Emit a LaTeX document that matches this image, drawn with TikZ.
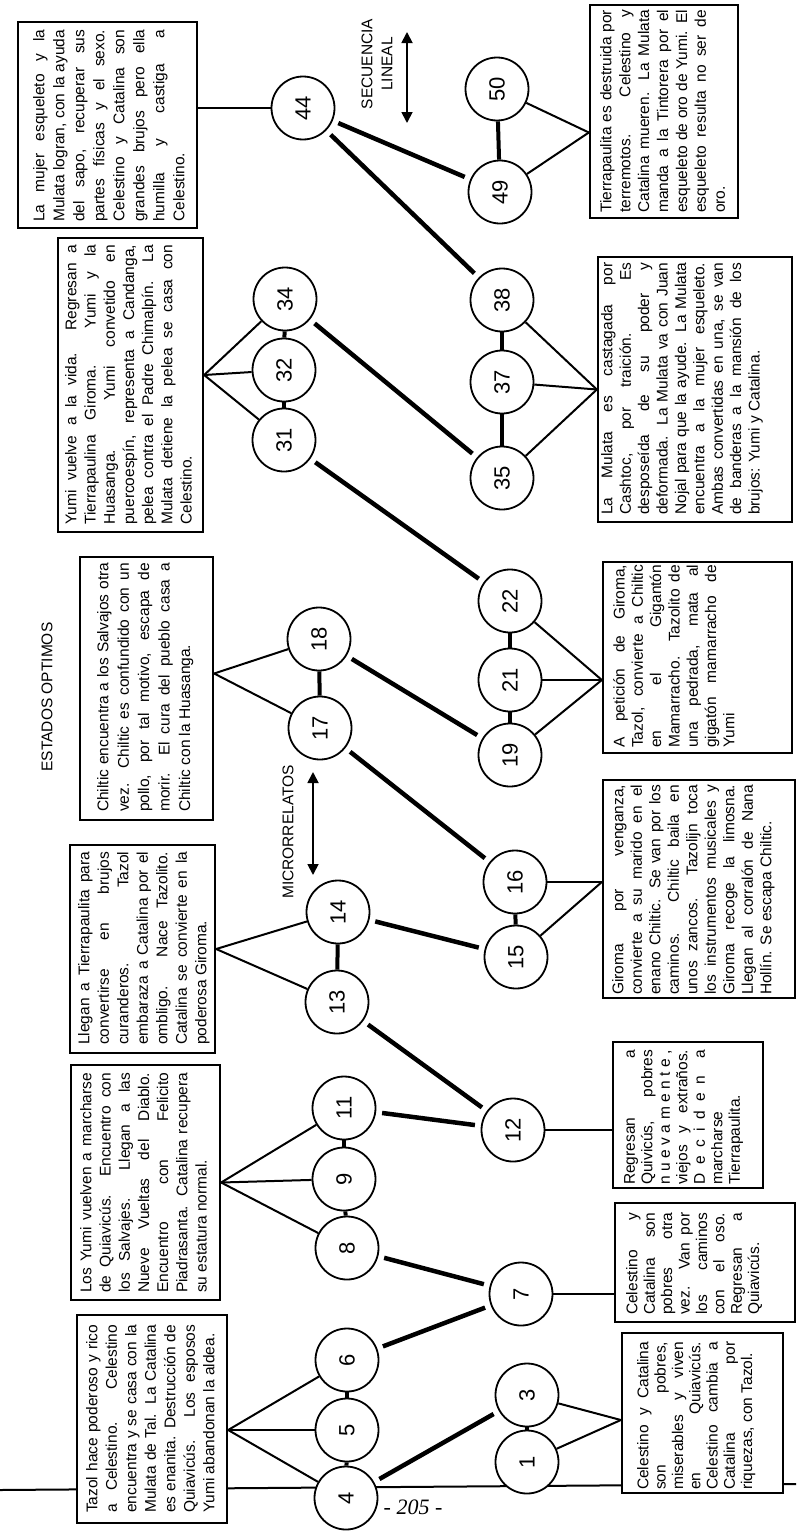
\documentclass[tikz,border=0pt]{standalone}
\usepackage{fontspec}
\setmainfont{Liberation Sans}
\newfontfamily\pagenumfont{Liberation Serif}
\usetikzlibrary{calc,arrows.meta}
\begin{document}
\begin{tikzpicture}[x=1pt,y=-1pt,
  box/.style={draw, line width=2.3pt, fill=white, inner sep=0pt},
  circ/.style={circle, draw, line width=1.8pt, fill=white, minimum size=63pt, inner sep=0pt, font=\fontsize{22}{22}\selectfont, rotate=90},
  txt/.style={rotate=90, anchor=north west, inner sep=0pt, align=justify, font=\fontsize{15.5}{#1}\selectfont},
  fan/.style={line width=2pt},
  seq/.style={line width=4.5pt, shorten >=6pt, shorten <=6pt},
  link/.style={line width=4pt},
  lbl/.style={rotate=90, font=\fontsize{15.5}{20}\selectfont, align=center, inner sep=0pt},
  dbl/.style={line width=1.8pt, {Triangle[length=11pt,width=11pt]}-{Triangle[length=11pt,width=11pt]}},
  base/.style={line width=2pt}
]
\useasboundingbox (0,0) rectangle (796,1531);

% base line
\coordinate (bl) at (0,1490);
\coordinate (br) at (796,1484);
\draw[base] (bl) -- (br);

% boxes
\node[box, minimum width=150pt, minimum height=208pt] (A) at (152,1419) {};
\node[box, minimum width=149pt, minimum height=235pt] (B) at (145.5,1182.5) {};
\node[box, minimum width=145pt, minimum height=208pt] (E) at (142.5,949) {};
\node[box, minimum width=133pt, minimum height=263pt] (H) at (146.5,688.5) {};
\node[box, minimum width=145pt, minimum height=294pt] (J) at (130.5,385) {};
\node[box, minimum width=179pt, minimum height=206pt] (L) at (107.5,125) {};
\node[box, minimum width=148pt, minimum height=213pt] (M) at (664,111.5) {};
\node[box, minimum width=194pt, minimum height=265pt] (K) at (695,389.5) {};
\node[box, minimum width=189pt, minimum height=191pt] (I) at (697.5,657.5) {};
\node[box, minimum width=192pt, minimum height=218pt] (G) at (699,889) {};
\node[box, minimum width=150pt, minimum height=146pt] (F) at (688,1115) {};
\node[box, minimum width=180pt, minimum height=119pt] (C) at (705,1262.5) {};
\node[box, minimum width=161pt, minimum height=160pt] (D) at (702.5,1413) {};

% box texts
\node[txt=19.5, text width=188pt] (tA) at (86,1513) {Tazol hace poderoso y rico\linebreak a Celestino. Celestino\linebreak encuentra y se casa con la\linebreak Mulata de Tal. La Catalina\linebreak es enanita. Destrucción de\linebreak Quiavicús. Los esposos\linebreak Yumi abandonan la aldea.};
\node[txt=19.2, text width=220pt] (tB) at (80,1293) {Los Yumi vuelven a marcharse\linebreak de Quiavicús. Encuentro con\linebreak los Salvajes. Llegan a las\linebreak Nueve Vueltas del Diablo.\linebreak Encuentro con Felicito\linebreak Piadrasanta. Catalina recupera\linebreak su estatura normal.};
\node[txt=19.5, text width=193pt] (tE) at (78,1045) {Llegan a Tierrapaulita para\linebreak convertirse en brujos\linebreak curanderos. Tazol\linebreak embaraza a Catalina por el\linebreak ombligo. Nace Tazolito.\linebreak Catalina se convierte en la\linebreak poderosa Giroma.};
\node[txt=20.4, text width=249pt] (tH) at (97,812) {Chiltic encuentra a los Salvajos otra\linebreak vez. Chiltic es confundido con un\linebreak pollo, por tal motivo, escapa de\linebreak morir. El cura del pueblo casa a\linebreak Chiltic con la Huasanga.};
\node[txt=19.2, text width=280pt] (tJ) at (65,525) {Yumi vuelve a la vida. Regresan a\linebreak Tierrapaulina Giroma. Yumi y la\linebreak Huasanga. Yumi convetido en\linebreak puercoespín, representa a Candanga,\linebreak pelea contra el Padre Chimalpín. La\linebreak Mulata detiene la pelea se casa con\linebreak Celestino.};
\node[txt=20, text width=192pt] (tL) at (33,222) {La mujer esqueleto y la\linebreak Mulata logran, con la ayuda\linebreak del sapo, recuperar sus\linebreak partes físicas y el sexo.\linebreak Celestino y Catalina son\linebreak grandes brujos pero ella\linebreak humilla y castiga a\linebreak Celestino.};
\node[txt=18.9, text width=203pt] (tM) at (600,213) {Tierrapaulita es destruida por\linebreak terremotos. Celestino y\linebreak Catalina mueren. La Mulata\linebreak manda a la Tintorera por el\linebreak esqueleto de oro de Yumi. El\linebreak esqueleto resulta no ser de\linebreak oro.};
\node[txt=18.4, text width=252pt] (tK) at (601,515) {La Mulata es castagada por\linebreak Cashtoc, por traición. Es\linebreak desposeída de su poder y\linebreak deformada. La Mulata va con Juan\linebreak Nojal para que la ayude. La Mulata\linebreak encuentra a la mujer esqueleto.\linebreak Ambas convertidas en una, se van\linebreak de banderas a la mansión de los\linebreak brujos: Yumi y Catalina.};
\node[txt=18.3, text width=183pt] (tI) at (613,748) {A petición de Giroma,\linebreak Tazol, convierte a Chiltic\linebreak en el Gigantón\linebreak Mamarracho. Tazolito de\linebreak una pedrada, mata al\linebreak gigatón mamarracho de\linebreak Yumi};
\node[txt=18.5, text width=210pt] (tG) at (612,995) {Giroma por venganza,\linebreak convierte a su marido en el\linebreak enano Chiltic. Se van por los\linebreak caminos. Chiltic baila en\linebreak unos zancos. Tazolijn toca\linebreak los instrumentos musicales y\linebreak Giroma recoge la limosna.\linebreak Llegan al corralón de Nana\linebreak Hollín. Se escapa Chiltic.};
\node[txt=17.5, text width=135pt] (tF) at (624,1185) {Regresan a\linebreak Quivicús, pobres\linebreak n\hfill u\hfill e\hfill v\hfill a\hfill m\hfill e\hfill n\hfill t\hfill e\hfill ,\linebreak viejos y extraños.\linebreak D\hfill e\hfill c\hfill i\hfill d\hfill e\hfill n\hfill \hfill a\linebreak marcharse\newline Tierrapaulita.};
\node[txt=17.4, text width=102pt] (tC) at (626,1315) {Celestino y\linebreak Catalina son\linebreak pobres otra\linebreak vez. Van por\linebreak los caminos\linebreak con el oso.\linebreak Regresan a\linebreak Quiavicús.};
\node[txt=17.3, text width=148pt] (tD) at (637,1490) {Celestino y Catalina\linebreak son pobres,\linebreak miserables y viven\linebreak en Quiavicús.\linebreak Celestino cambia a\linebreak Catalina por\linebreak riquezas, con Tazol.};

% circles
\node[circ] (c1) at (527,1462) {1};
\node[circ] (c3) at (527,1395) {3};
\node[circ] (c4) at (346,1498) {4};
\node[circ] (c5) at (347,1430) {5};
\node[circ] (c6) at (347,1360) {6};
\node[circ] (c7) at (521,1294) {7};
\node[circ] (c8) at (347,1248) {8};
\node[circ] (c9) at (344,1179) {9};
\node[circ] (c11) at (344,1108) {11};
\node[circ] (c12) at (513,1130) {12};
\node[circ] (c13) at (337,1002) {13};
\node[circ] (c14) at (338,912) {14};
\node[circ] (c15) at (516,957) {15};
\node[circ] (c16) at (515,882) {16};
\node[circ] (c17) at (320,728) {17};
\node[circ] (c18) at (319,639) {18};
\node[circ] (c19) at (510,755) {19};
\node[circ] (c21) at (510,680) {21};
\node[circ] (c22) at (510,601) {22};
\node[circ] (c31) at (284,440) {31};
\node[circ] (c32) at (284,370) {32};
\node[circ] (c34) at (285,299) {34};
\node[circ] (c35) at (502,478) {35};
\node[circ] (c37) at (502,382) {37};
\node[circ] (c38) at (502,300) {38};
\node[circ] (c44) at (303,108) {44};
\node[circ] (c49) at (500,192) {49};
\node[circ] (c50) at (497,89) {50};

% links inside groups
\draw[link] (c1) -- (c3);
\draw[link] (c4) -- (c5);
\draw[link] (c5) -- (c6);
\draw[link] (c8) -- (c9);
\draw[link] (c9) -- (c11);
\draw[link] (c13) -- (c14);
\draw[link] (c15) -- (c16);
\draw[link] (c17) -- (c18);
\draw[link] (c19) -- (c21);
\draw[link] (c21) -- (c22);
\draw[link] (c31) -- (c32);
\draw[link] (c32) -- (c34);
\draw[link] (c35) -- (c37);
\draw[link] (c37) -- (c38);
\draw[link] (c49) -- (c50);

% sequence connectors
\draw[seq] (c4) -- (c3);
\draw[seq] (c6) -- (c7);
\draw[seq] (c8) -- (c7);
\draw[seq] (c11) -- (c12);
\draw[seq] (c13) -- (c12);
\draw[seq] (c14) -- (c15);
\draw[seq] (c17) -- (c16);
\draw[seq] (c18) -- (c19);
\draw[seq] (c31) -- (c22);
\draw[seq] (c34) -- (c35);
\draw[seq] (c44) -- (c38);
\draw[seq] (c44) -- (c49);

% fans from boxes
\draw[fan] (A.east |- c5) -- (c4);
\draw[fan] (A.east |- c5) -- (c5);
\draw[fan] (A.east |- c5) -- (c6);
\draw[fan] (B.east) -- (c8);
\draw[fan] (B.east) -- (c9);
\draw[fan] (B.east) -- (c11);
\draw[fan] (E.east) -- (c13);
\draw[fan] (E.east) -- (c14);
\draw[fan] ($(H.east)+(0,-15)$) -- (c17);
\draw[fan] ($(H.east)+(0,-15)$) -- (c18);
\draw[fan] ($(J.east)+(0,-10)$) -- (c31);
\draw[fan] ($(J.east)+(0,-10)$) -- (c32);
\draw[fan] ($(J.east)+(0,-10)$) -- (c34);
\draw[fan] (L.east |- c44) -- (c44);
\draw[fan] ($(M.west)+(0,21)$) -- (c49);
\draw[fan] ($(M.west)+(0,21)$) -- (c50);
\draw[fan] (K.west) -- (c35);
\draw[fan] (K.west) -- (c37);
\draw[fan] (K.west) -- (c38);
\draw[fan] (I.west |- c21) -- (c19);
\draw[fan] (I.west |- c21) -- (c21);
\draw[fan] (I.west |- c21) -- (c22);
\draw[fan] (G.west |- c16) -- (c15);
\draw[fan] (G.west |- c16) -- (c16);
\draw[fan] (F.west |- c12) -- (c12);
\draw[fan] (C.west |- c7) -- (c7);
\draw[fan] ($(D.west)+(0,7)$) -- (c1);
\draw[fan] ($(D.west)+(0,7)$) -- (c3);

% labels
\node[lbl] (estados) at (47,697) {ESTADOS OPTIMOS};
\node[lbl] (micro) at (288,832) {MICRORRELATOS};
\node[lbl] (secu) at (377,64) {SECUENCIA\\LINEAL};

% double arrows
\coordinate (ma1) at (313,772);
\coordinate (ma2) at (313,875);
\draw[dbl] (ma1) -- (ma2);
\coordinate (sa1) at (407,32);
\coordinate (sa2) at (407,123);
\draw[dbl] (sa1) -- (sa2);

% page number
\node[font=\pagenumfont\fontsize{22}{22}\selectfont\itshape, inner sep=0pt] (pg) at (413,1507) {- 205 -};
\end{tikzpicture}
\end{document}
